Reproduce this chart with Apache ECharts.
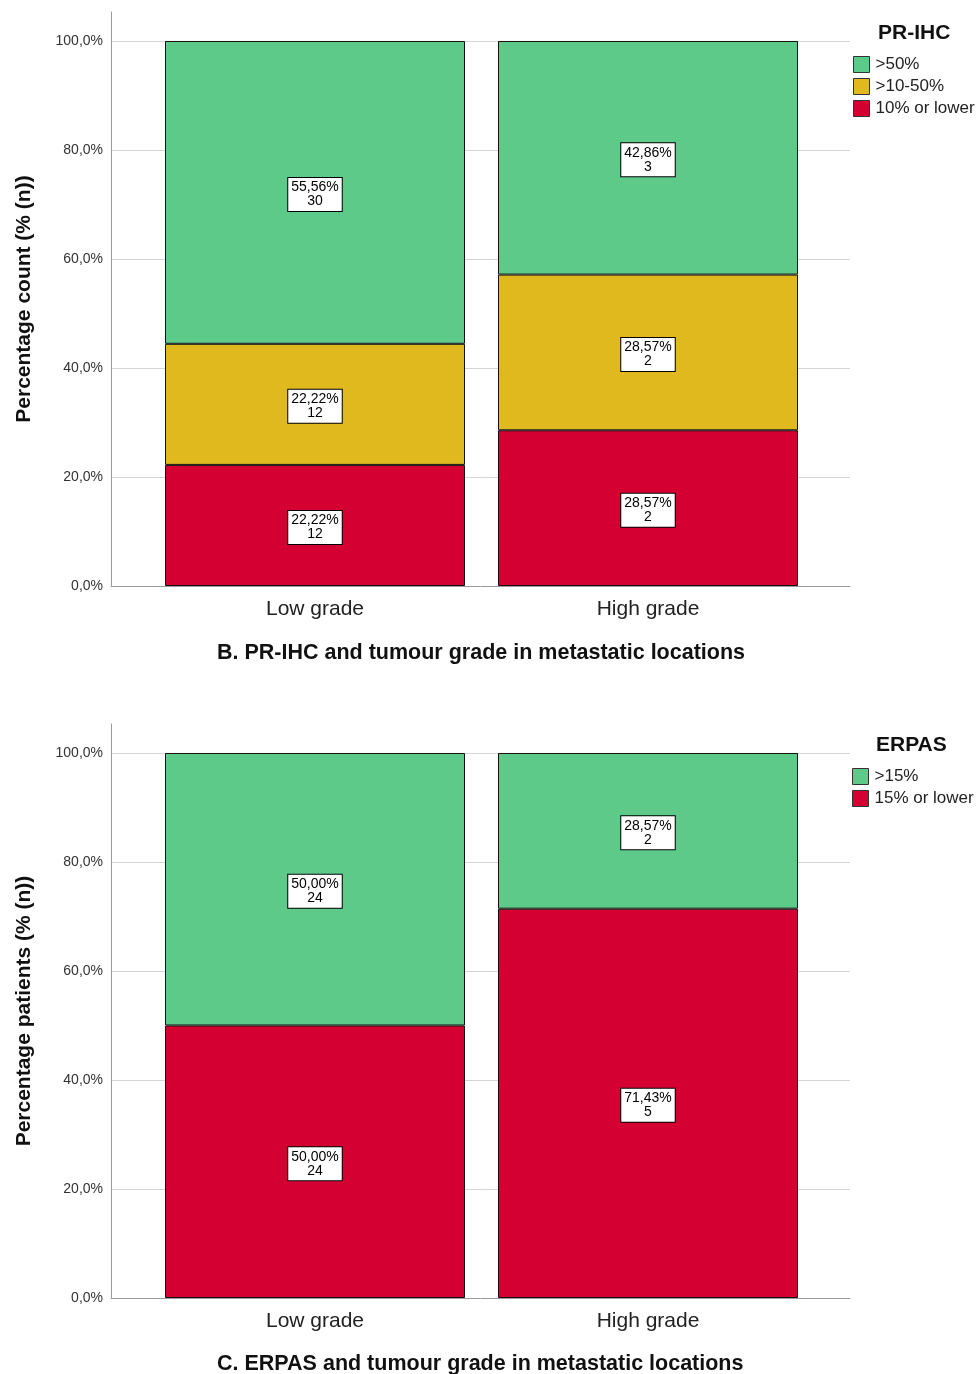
<!DOCTYPE html>
<html>
<head>
<meta charset="utf-8">
<script src="https://cdn.jsdelivr.net/npm/echarts@6/dist/echarts.min.js"></script>
<style>
  html, body { margin: 0; padding: 0; background: #fff; }
  #chart { width: 978px; height: 1374px; }
</style>
</head>
<body>
<div id="chart"></div>
<script>
const grades = ['Low grade', 'High grade']

// B. PR-IHC
const prOverPct = [55.56, 42.86]
const prOverN = [30, 3]
const prMidPct = [22.22, 28.57]
const prMidN = [12, 2]
const prLowPct = [22.22, 28.57]
const prLowN = [12, 2]

// C. ERPAS
const erOverPct = [50.0, 28.57]
const erOverN = [24, 2]
const erLowPct = [50.0, 71.43]
const erLowN = [24, 5]

const yTicks = [0, 20, 40, 60, 80, 100]

const GREEN = '#5DCA8A'
const YELLOW = '#E0B91E'
const RED = '#D50032'
const FONT = '"Liberation Sans", Arial, sans-serif'
const AXIS_TOP = 105.32 // axis line runs a little above 100%

const fmtPct = (v) => v.toFixed(2).replace('.', ',') + '%'

const barLabel = (counts) => ({
  show: true,
  position: 'inside',
  offset: [0, 2],
  formatter: (p) => fmtPct(p.value) + '\n' + counts[p.dataIndex],
  backgroundColor: '#fff',
  borderColor: '#000',
  borderWidth: 1,
  padding: [3, 3, 2, 3],
  color: '#000',
  fontFamily: FONT,
  fontSize: 14,
  lineHeight: 14,
  align: 'center'
})

const barSeries = (name, data, counts, color, idx, stack) => ({
  name: name,
  type: 'bar',
  stack: stack,
  xAxisIndex: idx,
  yAxisIndex: idx,
  barWidth: 300,
  data: data,
  itemStyle: { color: color, borderColor: '#111', borderWidth: 1 },
  label: barLabel(counts),
  emphasis: { disabled: true }
})

const frameY = (name, gridIndex) => ({
  type: 'value',
  gridIndex: gridIndex,
  min: 0,
  max: AXIS_TOP,
  interval: 20,
  name: name,
  nameLocation: 'middle',
  nameGap: 76,
  nameTextStyle: { fontFamily: FONT, fontSize: 21, fontWeight: 'bold', color: '#111' },
  axisLine: { show: true, lineStyle: { color: '#9a9a9a', width: 1 } },
  axisTick: { show: false },
  axisLabel: {
    margin: 8,
    fontFamily: FONT,
    fontSize: 14,
    color: '#333',
    padding: [3, 0, 0, 0],
    formatter: (v) => (yTicks.includes(v) ? v.toFixed(1).replace('.', ',') + '%' : '')
  },
  splitLine: { show: true, showMinLine: false, showMaxLine: false, lineStyle: { color: '#d4d4d4', width: 1 } }
})

const frameX = (gridIndex) => ({
  type: 'value',
  gridIndex: gridIndex,
  min: 0,
  max: 1,
  axisLine: { show: true, onZero: false, lineStyle: { color: '#9a9a9a', width: 1 } },
  axisTick: { show: false },
  axisLabel: { show: false },
  splitLine: { show: false }
})

const barX = (gridIndex) => ({
  type: 'category',
  gridIndex: gridIndex,
  data: grades,
  axisLine: { show: false },
  axisTick: { show: false },
  axisLabel: { margin: 13, fontFamily: FONT, fontSize: 21, color: '#222' }
})

const barY = (gridIndex) => ({
  type: 'value',
  gridIndex: gridIndex,
  min: 0,
  max: AXIS_TOP,
  show: false,
  splitLine: { show: false }
})

const legendBase = {
  orient: 'vertical',
  itemWidth: 16,
  itemHeight: 16,
  itemGap: 5,
  icon: 'rect',
  selectedMode: false,
  textStyle: { fontFamily: FONT, fontSize: 17, color: '#222', padding: [2, 0, 0, 1] },
  itemStyle: { borderColor: '#333', borderWidth: 1 }
}

const titleStyle = { fontFamily: FONT, fontSize: 21, fontWeight: 'bold', color: '#111' }
const captionStyle = { fontFamily: FONT, fontSize: 21.5, fontWeight: 'bold', color: '#111' }

const chart = echarts.init(document.getElementById('chart'))
chart.setOption({
  animation: false,
  backgroundColor: '#fff',
  title: [
    { text: 'PR-IHC', left: 873, top: 18, textStyle: titleStyle },
    { text: 'ERPAS', left: 871, top: 730, textStyle: titleStyle },
    { text: 'B. PR-IHC and tumour grade in metastatic locations', left: 212, top: 637, textStyle: captionStyle },
    { text: 'C. ERPAS and tumour grade in metastatic locations', left: 212, top: 1348, textStyle: captionStyle }
  ],
  legend: [
    Object.assign({}, legendBase, { left: 848, top: 51, data: ['>50%', '>10-50%', '10% or lower'] }),
    Object.assign({}, legendBase, { left: 847, top: 763, data: ['>15%', '15% or lower'] })
  ],
  grid: [
    { left: 111, right: 128, top: 12, height: 574 },
    { left: 148.5, right: 163.5, top: 12, height: 574 },
    { left: 111, right: 128, top: 724, height: 574 },
    { left: 148.5, right: 163.5, top: 724, height: 574 }
  ],
  xAxis: [frameX(0), barX(1), frameX(2), barX(3)],
  yAxis: [
    frameY('Percentage count (% (n))', 0),
    barY(1),
    frameY('Percentage patients (% (n))', 2),
    barY(3)
  ],
  series: [
    barSeries('10% or lower', prLowPct, prLowN, RED, 1, 'pr'),
    barSeries('>10-50%', prMidPct, prMidN, YELLOW, 1, 'pr'),
    barSeries('>50%', prOverPct, prOverN, GREEN, 1, 'pr'),
    barSeries('15% or lower', erLowPct, erLowN, RED, 3, 'er'),
    barSeries('>15%', erOverPct, erOverN, GREEN, 3, 'er')
  ]
})
</script>
</body>
</html>
